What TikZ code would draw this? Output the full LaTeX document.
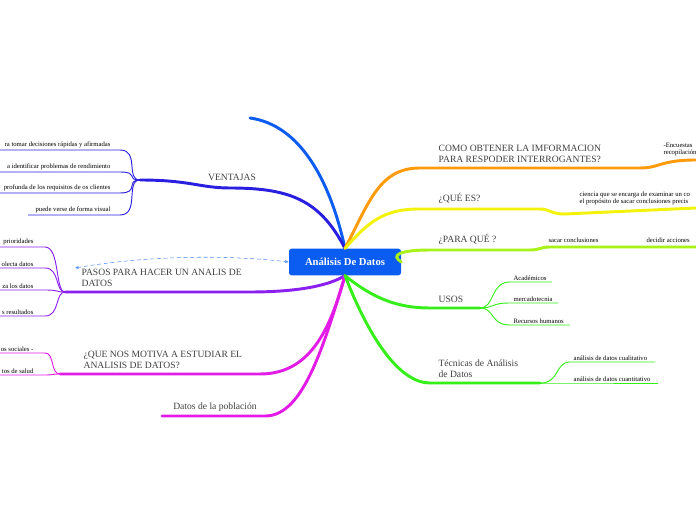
\documentclass[tikz,border=0pt]{standalone}
\usepackage{fontspec}
\setmainfont{Liberation Serif}
\usetikzlibrary{arrows.meta}
\definecolor{cblue}{HTML}{0B5CF0}
\definecolor{cdblue}{HTML}{2A1FE0}
\definecolor{cpurple}{HTML}{8A1FF0}
\definecolor{cmag}{HTML}{E21CE6}
\definecolor{corange}{HTML}{FF9A0A}
\definecolor{cyellow}{HTML}{F2F20A}
\definecolor{clime}{HTML}{A8F21A}
\definecolor{cgreen}{HTML}{35EE1A}
\tikzset{
  topic/.style={font=\fontsize{7.2}{7.8}\selectfont, text=black!75, align=left, inner sep=1pt},
  leaf/.style={font=\fontsize{5}{5.6}\selectfont, inner sep=1pt, align=left},
  branch/.style={line width=2.2pt, line cap=round},
  twig/.style={line width=0.7pt}
}
\begin{document}
\begin{tikzpicture}[x=0.75pt, y=-0.75pt]
  \useasboundingbox (0,0) rectangle (696,520);

  % centre
  \node [fill=cblue, rounded corners=2pt, text=white, font=\bfseries\fontsize{8}{9}\selectfont,
         minimum width=84pt, minimum height=20pt] (root) at (345,262) {Análisis De Datos};

  % ---- left side ----
  \draw [branch, cblue] (root.north) .. controls (330,180) and (300,125) .. (250,118);
  \coordinate (ven) at (140,180);
  \draw [branch, cdblue] (root.north) .. controls (320,200) and (290,188) .. (230,188)
        .. controls (200,188) and (190,180) .. (ven);
  \node [topic, anchor=south] (ventajas) at (232,182) {VENTAJAS};
  \foreach \y/\t/\s in {150/ra tomar decisiones rápidas y afirmadas/0,
                        172/a identificar problemas de rendimiento/0,
                        193/profunda de los requisitos de os clientes/0,
                        215/puede verse de forma visual/28} {
    \draw [twig, cdblue] (ven) .. controls (125,180) and (140,\y) .. (120,\y) -- (\s,\y);
    \node [leaf, anchor=south east] at (112,\y) {\t};
  }

  \coordinate (pas) at (65,292);
  \draw [branch, cpurple] (root.south) .. controls (330,285) and (300,292) .. (250,292) -- (pas);
  \node [topic, anchor=south west] (pasos) at (80,288) {PASOS PARA HACER UN ANALIS DE\\DATOS};
  \foreach \y/\t in {247/prioridades, 268/olecta datos, 290/za los datos, 316/s resultados} {
    \draw [twig, cpurple] (pas) .. controls (55,292) and (60,\y) .. (45,\y) -- (0,\y);
    \node [leaf, anchor=south east] at (35,\y) {\t};
  }
  \draw [densely dashed, thin, cblue!70, {Stealth[length=3pt]}-{Stealth[length=3pt]}]
        (75,268) .. controls (150,255) and (230,255) .. (root.west);

  \coordinate (mot) at (60,374);
  \draw [branch, cmag] (root.south) .. controls (330,330) and (310,374) .. (260,374) -- (mot);
  \node [topic, anchor=south west] (motiva) at (82,370) {¿QUE NOS MOTIVA A ESTUDIAR EL\\ANALISIS DE DATOS?};
  \foreach \y/\t in {353/os sociales -, 375/tos de salud} {
    \draw [twig, cmag] (mot) .. controls (50,374) and (55,\y) .. (45,\y) -- (0,\y);
    \node [leaf, anchor=south east] at (35,\y) {\t};
  }

  \draw [branch, cmag] (root.south) .. controls (320,360) and (300,416) .. (265,416) -- (162,416);
  \node [topic, anchor=south] (poblacion) at (215,413) {Datos de la población};

  % ---- right side ----
  \draw [branch, corange] (root.north) .. controls (370,200) and (380,168) .. (420,168) -- (640,168)
        .. controls (660,168) and (660,160) .. (696,160);
  \node [topic, anchor=south west] (obtener) at (437,164) {COMO OBTENER LA IMFORMACION\\PARA RESPODER INTERROGANTES?};
  \node [leaf, anchor=south west] (encuestas) at (662,158) {-Encuestas\\recopilación};

  \draw [branch, cyellow] (root.north) .. controls (370,220) and (385,209) .. (420,209) -- (540,209)
        .. controls (550,209) and (550,214) .. (565,214) -- (696,208);
  \node [topic, anchor=south west] (quees) at (437,205) {¿QUÉ ES?};
  \node [leaf, anchor=south west] (ciencia) at (578,207) {ciencia que se encarga de examinar un co\\el propósito de sacar conclusiones precis};

  \draw [branch, clime] (root.east) .. controls (390,255) and (400,250) .. (430,250) -- (530,250)
        .. controls (540,250) and (540,247) .. (550,247) -- (696,247);
  \node [topic, anchor=south west] (paraque) at (437,246) {¿PARA QUÉ ?};
  \node [leaf, anchor=south west] (sacar) at (547,244) {sacar conclusiones};
  \node [leaf, anchor=south west] (decidir) at (645,244) {decidir acciones};

  \coordinate (usos) at (480,308);
  \draw [branch, cgreen] (root.south) .. controls (375,300) and (400,308) .. (430,308) -- (usos);
  \node [topic, anchor=south west] (usoslbl) at (437,304) {USOS};
  \foreach \y/\t/\e in {282/Académicos/552, 303/mercadotecnia/558, 325/Recursos humanos/570} {
    \draw [twig, cgreen] (usos) .. controls (495,308) and (490,\y) .. (510,\y) -- (\e,\y);
    \node [leaf, anchor=south west] at (512,\y) {\t};
  }

  \coordinate (tec) at (540,383);
  \draw [branch, cgreen] (root.south) .. controls (370,340) and (400,383) .. (430,383) -- (tec);
  \node [topic, anchor=south west] (tecnicas) at (437,379) {Técnicas de Análisis\\de Datos};
  \foreach \y/\t/\e in {362/análisis de datos cualitativo/655, 383/análisis de datos cuantitativo/658} {
    \draw [twig, cgreen] (tec) .. controls (560,383) and (555,\y) .. (570,\y) -- (\e,\y);
    \node [leaf, anchor=south west] at (572,\y) {\t};
  }
\end{tikzpicture}
\end{document}
